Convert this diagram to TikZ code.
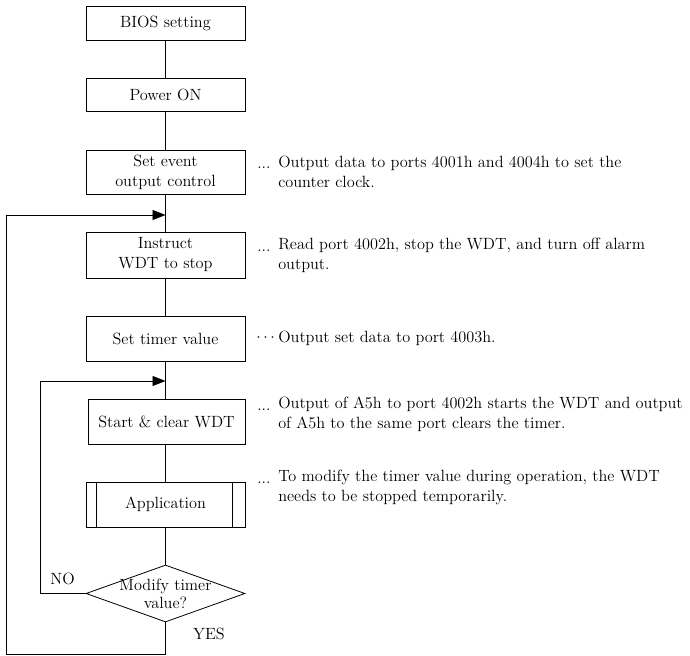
\documentclass[tikz,border=0pt]{standalone}
\usetikzlibrary{arrows.meta,shapes.geometric}
\begin{document}
\begin{tikzpicture}[x=0.75pt,y=-0.75pt,
  every node/.style={font=\fontsize{12.2}{15}\selectfont},
  line/.style={line width=0.6pt},
  stepbox/.style={draw,line width=0.6pt,minimum width=119.25pt,align=center,inner sep=0pt},
  decision/.style={draw,line width=0.6pt,diamond,aspect=2.79,minimum width=119.25pt,minimum height=42.75pt,inner sep=0pt},
  note/.style={anchor=west,align=left,inner sep=0pt},
  dots/.style={anchor=west,inner sep=0pt},
  arr/.style={line width=0.6pt,-{Triangle[length=9.75pt,width=7.5pt]}}]
\useasboundingbox (0,0) rectangle (690,656);
\node[stepbox,minimum height=25.5pt] (bios) at (165.5,23) {BIOS setting};
\node[stepbox,minimum height=24.75pt] (power) at (165.5,94.5) {Power ON};
\node[stepbox,minimum height=33pt] (event) at (165.5,172) {Set event\\output control};
\node[stepbox,minimum height=34.5pt] (stop) at (165.5,255) {Instruct\\WDT to stop};
\node[stepbox,minimum height=33.75pt] (timer) at (165.5,338.5) {Set timer value};
\node[stepbox,minimum height=33.75pt,minimum width=117.75pt] (start) at (166.5,421.5) {Start \& clear WDT};
\node[stepbox,minimum height=33.75pt] (app) at (165.5,504.5) {Application};
\draw[line] ([xshift=8.25pt]app.north west) -- ([xshift=8.25pt]app.south west);
\draw[line] ([xshift=-9.75pt]app.north east) -- ([xshift=-9.75pt]app.south east);
\node[decision] (mod) at (165.5,593.5) {};
\node[align=center,inner sep=0pt] (modtext) at (165.5,594) {Modify timer\\[-2pt]value?};
\coordinate (j1) at (165.5,215);
\coordinate (j2) at (165.5,381);
\draw[line] (bios) -- (power);
\draw[line] (power) -- (event);
\draw[line] (event) -- (stop);
\draw[line] (stop) -- (timer);
\draw[line] (timer.south) -- (timer.south |- start.north);
\draw[line] (start.south -| app.north) -- (app.north);
\draw[line] (app) -- (mod);
\draw[arr] (mod.west) -- (40.7,593.5) -- (40.7,381) -- (j2);
\draw[arr] (mod.south) -- (165.5,654) -- (6,654) -- (6,215) -- (j1);
\node[inner sep=0pt] (no) at (62.5,579) {NO};
\node[inner sep=0pt] (yes) at (209,634) {YES};
\node[dots] (d1) at (257,168) {...};
\node[note] (n1) at (278,172) {Output data to ports 4001h and 4004h to set the\\counter clock.};
\node[dots] (d2) at (257,251) {...};
\node[note] (n2) at (278,255) {Read port 4002h, stop the WDT, and turn off alarm\\output.};
\node[dots] (d3) at (256,338) {$\cdots$};
\node[note] (n3) at (278,338) {Output set data to port 4003h.};
\node[dots] (d4) at (257,410) {...};
\node[note] (n4) at (278,414) {Output of A5h to port 4002h starts the WDT and output\\of A5h to the same port clears the timer.};
\node[dots] (d5) at (257,483) {...};
\node[note] (n5) at (278,487) {To modify the timer value during operation, the WDT\\needs to be stopped temporarily.};
\end{tikzpicture}
\end{document}
